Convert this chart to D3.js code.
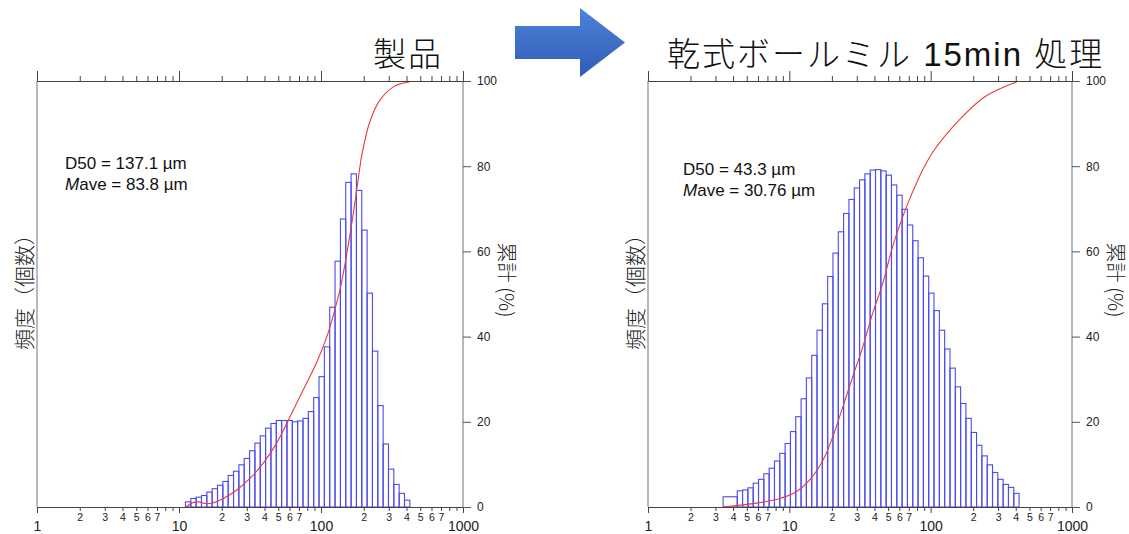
<!DOCTYPE html>
<html>
<head>
<meta charset="utf-8">
<script src="https://cdn.jsdelivr.net/npm/d3@7"></script>
<style>
  body { margin: 0; background: #fff; }
  text { font-family: "Liberation Sans", "Noto Sans CJK JP", sans-serif; }
</style>
</head>
<body>
<div id="main"></div>
<script>
const W = 1129, H = 534;

// bin edges (µm), 1/8 octave steps
const leftEdges = [11.10, 12.11, 13.20, 14.40, 15.70, 17.12, 18.67, 20.36, 22.20, 24.21,
  26.40, 28.79, 31.40, 34.24, 37.34, 40.72, 44.41, 48.43, 52.81, 57.59, 62.80, 68.48,
  74.68, 81.44, 88.81, 96.85, 105.6, 115.2, 125.6, 137.0, 149.4, 162.9, 177.6, 193.7,
  211.2, 230.3, 251.2, 273.9, 298.7, 325.7, 355.2, 387.4, 422.4];
const leftFreq = [1.2, 2.0, 2.3, 2.7, 3.5, 4.3, 5.1, 6.0, 7.4, 8.4,
  9.9, 11.4, 13.2, 15.0, 16.7, 18.5, 19.6, 20.3, 20.3, 20.3,
  20.0, 20.2, 20.8, 22.4, 25.7, 30.6, 37.6, 46.9, 57.7, 67.6,
  76.2, 78.2, 74.3, 65.0, 50.2, 36.6, 23.8, 14.8, 8.9, 5.3, 3.2, 1.6];
const leftCumSize = [11.2, 12.5, 13.7, 15.5, 17.5, 20.5, 25.5, 31.6, 39.2, 48.7, 60.5, 75,
  93.3, 110, 122, 137, 152, 169, 183, 193.5, 221, 260, 330, 420];
const leftCumPct = [0, 1.0, 1.2, 0.8, 1.0, 2.0, 4.0, 6.7, 10.3, 15.0, 21.2, 27.5,
  34.0, 40.0, 45.0, 51.5, 59.5, 69.0, 77.0, 82.5, 90.5, 95.5, 98.8, 99.8];

const rightEdges = [3.40, 4.28, 4.667, 5.090, 5.550, 6.053, 6.601, 7.198, 7.850, 8.560,
  9.335, 10.18, 11.10, 12.11, 13.20, 14.40, 15.70, 17.12, 18.67, 20.36, 22.20, 24.21,
  26.40, 28.79, 31.40, 34.24, 37.34, 40.72, 44.41, 48.43, 52.81, 57.59, 62.80, 68.48,
  74.68, 81.44, 88.81, 96.85, 105.6, 115.2, 125.6, 137.0, 149.4, 162.9, 177.6, 193.7,
  211.2, 230.3, 251.2, 273.9, 298.7, 325.7, 355.2, 387.4, 422.4];
const rightFreq = [2.4, 3.8, 4.0, 4.5, 5.6, 6.5, 7.8, 9.1, 10.8, 12.6, 14.9,
  17.7, 21.2, 25.4, 30.3, 35.6, 41.5, 47.7, 54.1, 59.6, 64.6,
  68.9, 72.2, 74.9, 76.8, 78.2, 79.1, 79.2, 78.9, 77.9, 75.6,
  73.2, 69.9, 66.2, 62.5, 58.5, 54.2, 50.2, 46.1, 41.5, 37.1,
  32.6, 28.2, 24.3, 20.8, 17.5, 14.5, 12.0, 9.9, 8.1, 6.5, 5.3, 4.6, 3.2];
const rightCumSize = [3.40, 5.85, 8.54, 11.2, 13.9, 17.3, 20.3, 23.9, 28.1, 33.1, 38.9,
  45.8, 53.8, 63.4, 70.6, 87.7, 106, 159, 239, 408];
const rightCumPct = [0, 0.9, 2.0, 3.6, 6.3, 11.0, 16.5, 23.5, 30.6, 37.6, 45.5,
  52.5, 61.1, 68.1, 72.1, 79.1, 83.8, 90.8, 96.2, 99.8];

const pctTicks = [0, 20, 40, 60, 80, 100];
const decadeTicks = [1, 10, 100, 1000];
const minorTicks = [2, 3, 4, 5, 6, 7, 8, 9, 20, 30, 40, 50, 60, 70, 80, 90, 200, 300, 400, 500, 600, 700, 800, 900];
const minorLabels = ["2", "3", "4", "5", "6", "7"];

const svg = d3.select("#main").append("svg")
  .attr("width", W).attr("height", H);
svg.append("rect").attr("width", W).attr("height", H).attr("fill", "#fff");

const defs = svg.append("defs");
const grad = defs.append("linearGradient").attr("id", "arrowGrad")
  .attr("x1", 0).attr("y1", 0).attr("x2", 0).attr("y2", 1);
grad.append("stop").attr("offset", "0%").attr("stop-color", "#4f82da");
grad.append("stop").attr("offset", "100%").attr("stop-color", "#2f5db5");

// arrow between panels
svg.append("path")
  .attr("d", "M515,26 L580,26 L580,8 L625,42.5 L580,77 L580,59 L515,59 Z")
  .attr("fill", "url(#arrowGrad)");

function drawPanel(p) {
  const g = svg.append("g");
  const x = d3.scaleLog().domain([1, 1000]).range([p.x0, p.x1]);
  const y = d3.scaleLinear().domain([0, 100]).range([507, 81]);

  // bars
  const bins = p.freq.map((v, i) => ({ lo: p.edges[i], hi: p.edges[i + 1], v: v }));
  g.append("g").selectAll("rect").data(bins).enter().append("rect")
    .attr("x", d => x(d.lo))
    .attr("y", d => y(d.v))
    .attr("width", d => x(d.hi) - x(d.lo))
    .attr("height", d => y(0) - y(d.v))
    .attr("fill", "none")
    .attr("stroke", "#4b4bf0")
    .attr("stroke-width", 1.1);

  // cumulative curve
  const cum = p.cumSize.map((s, i) => [s, p.cumPct[i]]);
  g.append("path").datum(cum)
    .attr("d", d3.line().x(d => x(d[0])).y(d => y(d[1])).curve(d3.curveCatmullRom.alpha(0.5)))
    .attr("fill", "none")
    .attr("stroke", "#ec3a3a")
    .attr("stroke-width", 1.1);

  // frame sides
  g.append("line").attr("x1", p.x0).attr("x2", p.x0).attr("y1", 81).attr("y2", 507)
    .attr("stroke", "#8a8a8a").attr("stroke-width", 1.2);
  g.append("line").attr("x1", p.x1).attr("x2", p.x1).attr("y1", 81).attr("y2", 507)
    .attr("stroke", "#8a8a8a").attr("stroke-width", 1.2);

  // top axis (ticks only)
  const top = g.append("g").attr("transform", "translate(0,81)");
  top.call(d3.axisTop(x).tickValues(minorTicks).tickSize(5).tickFormat(""));
  top.call(g2 => g2.select(".domain").remove());
  const topMaj = g.append("g").attr("transform", "translate(0,81)");
  topMaj.call(d3.axisTop(x).tickValues(decadeTicks).tickSize(10).tickFormat(""));
  topMaj.select(".domain").attr("stroke", "#444");

  // bottom axis
  const bot = g.append("g").attr("transform", "translate(0,507)");
  bot.call(d3.axisBottom(x).tickValues(minorTicks).tickSize(4).tickPadding(3)
    .tickFormat(d => {
      const s = String(d)[0];
      return minorLabels.includes(s) ? s : "";
    }));
  bot.select(".domain").remove();
  bot.selectAll("text").attr("font-size", 10.5).attr("fill", "#222")
    .style("font-family", "Liberation Sans, sans-serif");
  const botMaj = g.append("g").attr("transform", "translate(0,507)");
  botMaj.call(d3.axisBottom(x).tickValues(decadeTicks).tickSize(6).tickPadding(8)
    .tickFormat(d3.format("d")));
  botMaj.select(".domain").attr("stroke", "#444");
  botMaj.selectAll("text").attr("font-size", 14).attr("fill", "#222")
    .style("font-family", "Liberation Sans, sans-serif");

  [top, topMaj, bot, botMaj].forEach(a => a.selectAll(".tick line").attr("stroke", "#444"));

  // right percentage axis
  const ra = g.append("g").attr("transform", `translate(${p.x1},0)`);
  ra.call(d3.axisRight(y).tickValues(pctTicks).tickSize(8).tickPadding(6));
  ra.select(".domain").remove();
  ra.selectAll(".tick line").attr("stroke", "#555");
  ra.selectAll("text").attr("font-size", 12).attr("fill", "#222")
    .style("font-family", "Liberation Sans, sans-serif");

  // axis titles
  g.append("text")
    .attr("transform", `translate(${p.x0 - 14},287) rotate(-90)`)
    .attr("text-anchor", "middle").attr("dominant-baseline", "central")
    .attr("font-size", 21).attr("font-weight", 300).attr("fill", "#222")
    .style("font-family", "Noto Sans CJK JP")
    .text("頻度（個数）");
  g.append("text")
    .attr("transform", `translate(${p.x1 + 44},280) rotate(90)`)
    .attr("text-anchor", "middle").attr("dominant-baseline", "central")
    .attr("font-size", 20).attr("font-weight", 300).attr("fill", "#222")
    .style("font-family", "Noto Sans CJK JP")
    .text("累計 (%)");

  // D50 / Mave note
  const note = g.append("text").attr("x", p.noteX).attr("y", p.noteY)
    .attr("font-size", 17).attr("fill", "#111");
  note.append("tspan").text(`D50 = ${p.d50} µm`);
  const l2 = g.append("text").attr("x", p.noteX).attr("y", p.noteY + 21)
    .attr("font-size", 17).attr("fill", "#111");
  l2.append("tspan").attr("font-style", "italic").text("M");
  l2.append("tspan").text(`ave = ${p.mave} µm`);

  // title
  g.append("text").attr("x", p.titleX).attr("y", 66)
    .attr("text-anchor", p.titleAnchor)
    .attr("font-size", 33).attr("font-weight", 300)
    .attr("letter-spacing", 2).attr("fill", "#111")
    .text(p.title);
}

drawPanel({
  x0: 37, x1: 463,
  edges: leftEdges, freq: leftFreq, cumSize: leftCumSize, cumPct: leftCumPct,
  d50: "137.1", mave: "83.8", noteX: 65, noteY: 169,
  title: "製品", titleX: 443, titleAnchor: "end"
});
drawPanel({
  x0: 648, x1: 1072,
  edges: rightEdges, freq: rightFreq, cumSize: rightCumSize, cumPct: rightCumPct,
  d50: "43.3", mave: "30.76", noteX: 683, noteY: 175,
  title: "乾式ボールミル 15min 処理", titleX: 667, titleAnchor: "start"
});
</script>
</body>
</html>
